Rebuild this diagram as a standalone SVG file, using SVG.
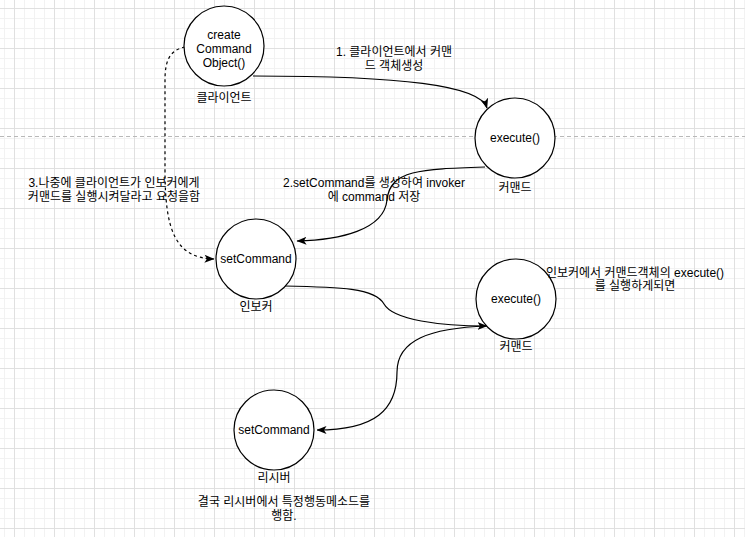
<svg xmlns="http://www.w3.org/2000/svg" width="745" height="537" viewBox="0 0 745 537">
  <defs>
    <pattern id="grid" patternUnits="userSpaceOnUse" x="14" y="8" width="40" height="40">
      <rect width="40" height="40" fill="#ffffff"/>
      <path d="M10.5,0 V40 M20.5,0 V40 M30.5,0 V40 M0,10.5 H40 M0,20.5 H40 M0,30.5 H40" stroke="#f2f2f2" stroke-width="1" fill="none"/>
      <path d="M0.5,0 V40 M0,0.5 H40" stroke="#e0e0e0" stroke-width="1" fill="none"/>
    </pattern>
    <marker id="arrow" viewBox="0 0 10 8" refX="9.5" refY="4" markerWidth="10" markerHeight="8" markerUnits="userSpaceOnUse" orient="auto">
      <path d="M0,0 L10,4 L0,8 L2.5,4 Z" fill="#000"/>
    </marker>
    <style>
      .node { fill: #ffffff; stroke: #000000; stroke-width: 1.2; }
      .t { font-family: "Liberation Sans", "Noto Sans CJK KR", sans-serif; font-size: 12px; fill: #000; text-anchor: middle; }
      .edge { fill: none; stroke: #000; stroke-width: 1.2; }
      .dash { stroke-dasharray: 3 3; }
    </style>
  </defs>

  <rect x="0" y="0" width="745" height="537" fill="url(#grid)"/>
  <line x1="0" y1="136.5" x2="745" y2="136.5" stroke="#b8b8b8" stroke-width="1" stroke-dasharray="4 3"/>

  <g id="connectors">
    <path class="edge" d="M253,76 C400,76 480,85 487,108" marker-end="url(#arrow)"/>
    <path class="edge" d="M485,167 C420,169 390,170 387,200 C384,230 340,240 297,241" marker-end="url(#arrow)"/>
    <path class="edge dash" d="M185,47 C170,50 165,60 165,80 L165,170 C165,230 175,258 214,259" marker-end="url(#arrow)"/>
    <path class="edge" d="M284,286 C340,287 375,288 384,304 C393,320 440,326 487,326" marker-end="url(#arrow)"/>
    <path class="edge" d="M487,326 C430,328 397,340 397,372 C397,410 375,430 317,430" marker-end="url(#arrow)"/>
  </g>

  <g id="client">
    <circle class="node" cx="224" cy="46" r="40"/>
    <text class="t" x="224" y="39">create</text>
    <text class="t" x="224" y="53">Command</text>
    <text class="t" x="224" y="67">Object()</text>
    <text class="t" x="224" y="102">클라이언트</text>
  </g>

  <g id="command1">
    <circle class="node" cx="515" cy="138" r="40"/>
    <text class="t" x="515" y="142">execute()</text>
    <text class="t" x="515" y="192">커맨드</text>
  </g>

  <g id="invoker">
    <circle class="node" cx="256" cy="259" r="40"/>
    <text class="t" x="256" y="263">setCommand</text>
    <text class="t" x="256" y="311">인보커</text>
  </g>

  <g id="command2">
    <circle class="node" cx="516" cy="299" r="40"/>
    <text class="t" x="516" y="303">execute()</text>
    <text class="t" x="516" y="351">커맨드</text>
  </g>

  <g id="receiver">
    <circle class="node" cx="274" cy="430" r="40"/>
    <text class="t" x="274" y="434">setCommand</text>
    <text class="t" x="274" y="482">리시버</text>
  </g>

  <g id="labels">
    <text class="t" x="394" y="56">1. 클라이언트에서 커맨</text>
    <text class="t" x="394" y="70">드 객체생성</text>
    <text class="t" x="374" y="187">2.setCommand를 생성하여 invoker</text>
    <text class="t" x="374" y="201">에 command 저장</text>
    <text class="t" x="114" y="187">3.나중에 클라이언트가 인보커에게</text>
    <text class="t" x="114" y="201">커맨드를 실행시켜달라고 요청을함</text>
    <text class="t" x="635" y="277">인보커에서 커맨드객체의 execute()</text>
    <text class="t" x="635" y="290">를 실행하게되면</text>
    <text class="t" x="284" y="506">결국 리시버에서 특정행동메소드를</text>
    <text class="t" x="284" y="520">행함.</text>
  </g>
</svg>
